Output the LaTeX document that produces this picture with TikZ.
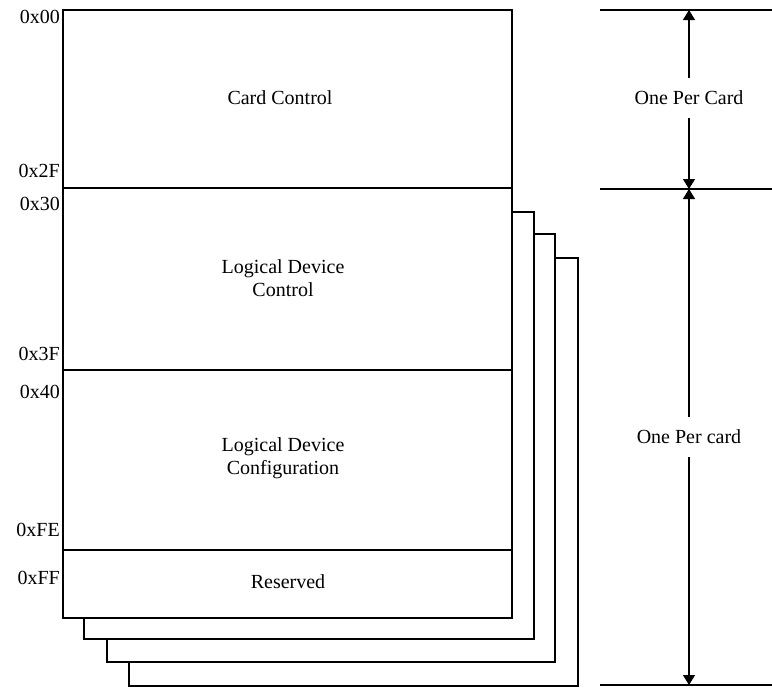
\documentclass[tikz,border=0pt]{standalone}
\usepackage{fontspec}
\setmainfont{Liberation Serif}
\usetikzlibrary{arrows.meta}

\tikzset{
  regbox/.style={draw, fill=white, line width=1.2pt},
  addr/.style={anchor=east, inner sep=1pt},
  dimline/.style={line width=1.2pt},
  dimarrow/.style={line width=1.2pt, -{Triangle[width=12pt,length=10pt]}},
  dimlabel/.style={fill=white, inner xsep=2pt, inner ysep=13pt}
}

\begin{document}
\begin{tikzpicture}[x=1pt, y=-1pt, font=\fontsize{20}{23}\selectfont]
  \useasboundingbox (0,0) rectangle (772,688);
  % draw stacked back pages
  \draw[regbox] (129,258) rectangle (578,686);
  \draw[regbox] (107,234) rectangle (555,662);
  \draw[regbox] (84,212) rectangle (534,639);
  % draw front page with its regions
  \draw[regbox] (63,10) rectangle (512,188);
  \draw[regbox] (63,188) rectangle (512,370);
  \draw[regbox] (63,370) rectangle (512,550);
  \draw[regbox] (63,550) rectangle (512,618);
  \node (card_ctrl) at (280,98) {Card Control};
  \node[align=center] (ld_ctrl) at (283,278) {Logical Device\\Control};
  \node[align=center] (ld_config) at (283,458) {Logical Device\\Configuration};
  \node (reserved) at (288,582) {Reserved};
  % draw address labels
  \node[addr] (addr00) at (61,17) {0x00};
  \node[addr] (addr2F) at (61,171) {0x2F};
  \node[addr] (addr30) at (61,204) {0x30};
  \node[addr] (addr3F) at (61,354) {0x3F};
  \node[addr] (addr40) at (61,392) {0x40};
  \node[addr] (addrFE) at (61,530) {0xFE};
  \node[addr] (addrFF) at (61,578) {0xFF};
  % draw dimension lines on the right
  \coordinate (dim_top_l) at (600,10);
  \coordinate (dim_top_r) at (772,10);
  \coordinate (dim_mid_l) at (600,189);
  \coordinate (dim_mid_r) at (772,189);
  \coordinate (dim_bot_l) at (600,685);
  \coordinate (dim_bot_r) at (772,685);
  \draw[dimline] (dim_top_l) -- (dim_top_r);
  \draw[dimline] (dim_mid_l) -- (dim_mid_r);
  \draw[dimline] (dim_bot_l) -- (dim_bot_r);
  \coordinate (dim_top) at (689,10);
  \coordinate (dim_mid) at (689,189);
  \coordinate (dim_bot) at (689,685);
  \node[dimlabel] (per_card) at (689,98) {One Per Card};
  \node[dimlabel] (per_card_dev) at (689,437) {One Per card};
  \draw[dimarrow] (per_card) -- (dim_top);
  \draw[dimarrow] (per_card) -- (dim_mid);
  \draw[dimarrow] (per_card_dev) -- (dim_mid);
  \draw[dimarrow] (per_card_dev) -- (dim_bot);
\end{tikzpicture}
\end{document}
